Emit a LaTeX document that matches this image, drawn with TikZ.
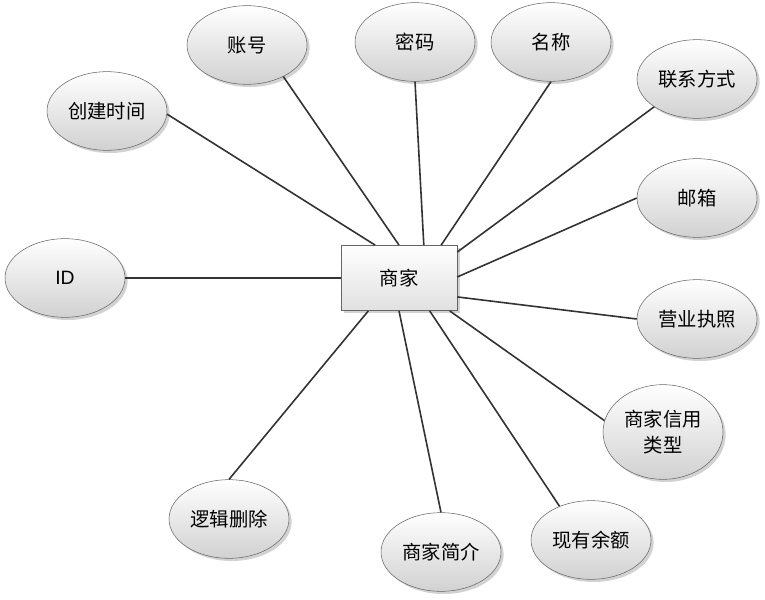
\documentclass[tikz,border=0pt]{standalone}
\usepackage{fontspec}
\newfontfamily\cjk{Noto Sans CJK SC}
\usetikzlibrary{shapes.geometric,shadows}

\tikzset{
  attr/.style={ellipse, draw=black!60, thin, top color=white, bottom color=black!18,
    drop shadow={shadow xshift=2pt, shadow yshift=-2pt, fill=black!35},
    minimum width=90pt, minimum height=59pt, inner sep=1pt, align=center,
    font=\cjk\fontsize{14.5}{19}\selectfont},
  entity/.style={rectangle, draw=black!60, thin, top color=white, bottom color=black!12,
    drop shadow={shadow xshift=2pt, shadow yshift=-2pt, fill=black!35},
    minimum width=87pt, minimum height=49pt, font=\cjk\fontsize{14.5}{19}\selectfont},
  link/.style={draw=black!80, line width=1.2pt}
}

\begin{document}
\begin{tikzpicture}[x=0.75pt,y=-0.75pt]
            \useasboundingbox (0,0) rectangle (765,600);

            \node[entity] (biz) at (399,278) {商家};

            \node[attr] (acct)  at (247,45)  {账号};
            \node[attr] (pwd)   at (415,42)  {密码};
            \node[attr] (name)  at (551,42)  {名称};
            \node[attr] (tel)   at (697,79)  {联系方式};
            \node[attr] (ctime) at (107,111) {创建时间};
            \node[attr] (mail)  at (697,198) {邮箱};
            \node[attr] (id)    at (65,278)  {\fontspec{Liberation Sans}ID};
            \node[attr] (lic)   at (697,319) {营业执照};
            \node[attr, minimum height=71pt] (credit) at (663,432) {商家信用\\类型};
            \node[attr] (bal)   at (591,540) {现有余额};
            \node[attr] (intro) at (441,552) {商家简介};
            \node[attr] (del)   at (229,519) {逻辑删除};

            % lines from the entity to each attribute
            \foreach \s/\t in {126/ctime.-3, 90/acct.-41, 53/pwd.south, 38/name.south,
                               24/tel.213, 1/mail.west, -18/lic.west, -33/credit.169,
                               -47/bal.133, -90/intro.north, -133/del.north, 180/id.east}
                \draw[link] (biz.\s) -- (\t);
        \end{tikzpicture}
\end{document}
